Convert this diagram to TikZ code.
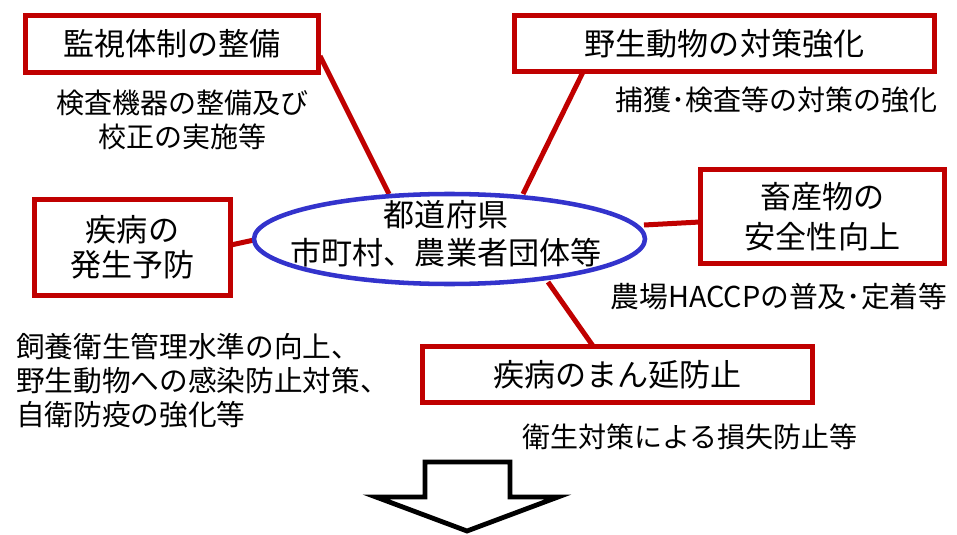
\documentclass[tikz,border=0pt]{standalone}
\usepackage{fontspec}
\setmainfont{Noto Sans CJK JP}
\usetikzlibrary{shapes.geometric}
\definecolor{boxred}{RGB}{192,0,0}
\definecolor{ellblue}{RGB}{51,51,204}
\newdimen\px \px=0.75pt
\tikzset{
  redbox/.style={draw=boxred, line width=3.75pt, fill=white, rectangle, inner sep=0pt, align=center,
    font=\fontsize{23.3pt}{27pt}\selectfont},
  link/.style={draw=boxred, line width=3.75pt},
  subtext/.style={inner sep=0pt, align=center, font=\fontsize{21pt}{25.5pt}\selectfont},
  bigarrow/.style={draw=black, line width=3.6pt, fill=white, line join=miter},
}
\begin{document}
\begin{tikzpicture}[x=0.75pt,y=-0.75pt]
\path[use as bounding box] (0,0) rectangle (957,535);
% link end points
\coordinate (l1a) at (320,56);
\coordinate (l1b) at (389,194);
\coordinate (l2a) at (583,72);
\coordinate (l2b) at (523,194);
\coordinate (l3a) at (231,245);
\coordinate (l3b) at (254,240);
\coordinate (l4a) at (644,225);
\coordinate (l4b) at (700,222);
\coordinate (l5a) at (548,282);
\coordinate (l5b) at (593,346);
\draw[link] (l1a) -- (l1b);
\draw[link] (l2a) -- (l2b);
\draw[link] (l3a) -- (l3b);
\draw[link] (l4a) -- (l4b);
\draw[link] (l5a) -- (l5b);
% central ellipse
\node[ellipse, draw=ellblue, line width=3.4pt, fill=white, inner sep=0pt,
      minimum width=391\px, minimum height=90\px] (pref) at (449.5,239) {};
\node[inner sep=0pt, align=center, font=\fontsize{23.3pt}{28.5pt}\selectfont] (preftext) at (446,234)
  {都道府県\\市町村、農業者団体等};
% boxes
\node[redbox, minimum width=293\px, minimum height=57\px] (b1) at (172,44) {監視体制の整備};
\node[redbox, minimum width=420\px, minimum height=56\px] (b2) at (724.5,43.5) {野生動物の対策強化};
\node[redbox, minimum width=196\px, minimum height=96\px, font=\fontsize{23.3pt}{26.5pt}\selectfont] (b3) at (132.5,247.5) {疾病の\\発生予防};
\node[redbox, minimum width=244\px, minimum height=94\px, font=\fontsize{23.3pt}{30pt}\selectfont] (b4) at (822.5,216.5) {畜産物の\\安全性向上};
\node[redbox, minimum width=390\px, minimum height=56\px] (b5) at (617.5,374.5) {疾病のまん延防止};
% sub texts
\node[subtext] (s1) at (182.5,120) {検査機器の整備及び\\校正の実施等};
\node[subtext] (s2) at (776.5,100) {捕獲･検査等の対策の強化};
\node[subtext, font=\fontsize{21.6pt}{25.5pt}\selectfont] (s3) at (779,297) {農場HACCPの普及･定着等};
\node[subtext] (s4) at (690,437) {衛生対策による損失防止等};
\node[subtext, align=left, anchor=west, font=\fontsize{21.5pt}{25.5pt}\selectfont] (s5) at (16,381) {飼養衛生管理水準の向上、\\野生動物への感染防止対策、\\自衛防疫の強化等};
% big down arrow
\draw[bigarrow] (425,462) -- (510,462) -- (510,497) -- (558,497) -- (467,531) -- (376,497) -- (425,497) -- cycle;
\end{tikzpicture}
\end{document}
